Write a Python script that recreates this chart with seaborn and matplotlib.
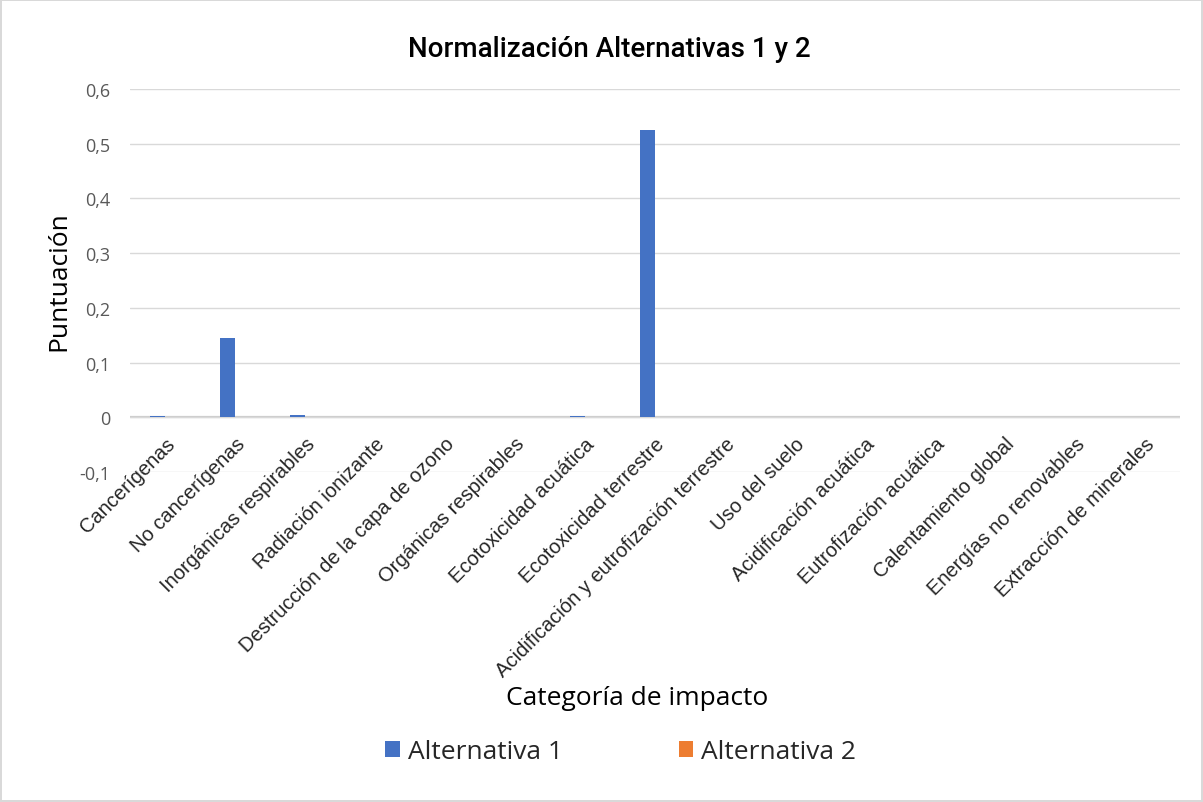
import numpy as np
import pandas as pd
import matplotlib
matplotlib.use("Agg")
import matplotlib.pyplot as plt
import seaborn as sns
from matplotlib.ticker import FuncFormatter

categorias = ["Cancerígenas", "No cancerígenas", "Inorgánicas respirables",
              "Radiación ionizante", "Destrucción de la capa de ozono",
              "Orgánicas respirables", "Ecotoxicidad acuática",
              "Ecotoxicidad terrestre", "Acidificación y eutrofización terrestre",
              "Uso del suelo", "Acidificación acuática", "Eutrofización acuática",
              "Calentamiento global", "Energías no renovables",
              "Extracción de minerales"]
alternativa_1 = [0.003, 0.145, 0.005, 0.0, 0.0, 0.0, 0.003, 0.525,
                 0.0, 0.0, 0.0, 0.0, 0.0, 0.0, 0.0]
alternativa_2 = [0.0] * 15
series = ["Alternativa 1", "Alternativa 2"]

df = pd.DataFrame({
    "categoria": categorias * 2,
    "serie": [series[0]] * 15 + [series[1]] * 15,
    "valor": alternativa_1 + alternativa_2,
})

sns.set_style("white")
plt.rcParams['font.family'] = ['Open Sans', 'DejaVu Sans']

fig = plt.figure(figsize=(12.03, 8.03), dpi=100, edgecolor="#d9d9d9", linewidth=1.5)
ax = fig.add_axes([0.108, 0.411, 0.873, 0.477])

sns.barplot(data=df, x="categoria", y="valor", hue="serie",
            palette=["#4472C4", "#ED7D31"], width=0.43, saturation=1,
            linewidth=0, ax=ax)

ax.set_ylim(-0.1, 0.6)
ax.set_yticks(np.arange(-0.1, 0.61, 0.1))
ax.yaxis.set_major_formatter(FuncFormatter(
    lambda v, p: "0" if abs(v) < 1e-9 else f"{v:.1f}".replace(".", ",")))
ax.grid(axis="y", color="#d9d9d9", linewidth=1)
ax.set_axisbelow(True)
ax.axhline(0, color="#cccccc", linewidth=1.6, zorder=0.5)
for s in ax.spines.values():
    s.set_visible(False)
# eje de categorías cruza en 0, como en Excel
ax.spines["bottom"].set_position(("data", 0))
ax.tick_params(axis="y", length=0, labelsize=13, colors="#595959", pad=14)
ax.tick_params(axis="x", length=0, pad=12)
ax.set_xticks(range(len(categorias)))
ax.set_xticklabels(categorias, rotation=45, ha="right", rotation_mode="anchor",
                   fontsize=14.5, family=["Liberation Sans", "DejaVu Sans"], color="#262626")
ax.set_xlim(-0.5, 14.5)

ax.set_title("Normalización Alternativas 1 y 2", fontsize=20, pad=24, x=0.456,
             family=["Roboto", "DejaVu Sans"], fontweight="medium", color="#000000")
ax.set_ylabel("Puntuación", fontsize=19, labelpad=6, color="#000000")
ax.set_xlabel("Categoría de impacto", fontsize=19, color="#000000")
ax.xaxis.label.set_va("center")
ax.xaxis.set_label_coords(0.483, -0.588)

handles, labels = ax.get_legend_handles_labels()
ax.legend(handles, labels, loc="center", bbox_to_anchor=(0.516, 0.063),
          bbox_transform=fig.transFigure, ncol=2, frameon=False, fontsize=19,
          handlelength=0.55, handleheight=0.55, handletextpad=0.3, columnspacing=4.4)

fig.savefig("out.png", dpi=100, edgecolor=fig.get_edgecolor())
